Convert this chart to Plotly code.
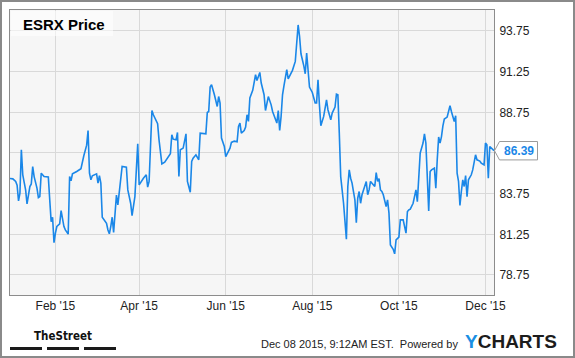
import plotly.graph_objects as go

# ---------------- data ----------------
dates = [
    "2014-12-31",
    "2015-01-02", "2015-01-04", "2015-01-05", "2015-01-06", "2015-01-07", "2015-01-08", "2015-01-09",
    "2015-01-11", "2015-01-12", "2015-01-14", "2015-01-15", "2015-01-16", "2015-01-17", "2015-01-19",
    "2015-01-20", "2015-01-21", "2015-01-22", "2015-01-24", "2015-01-27", "2015-01-28", "2015-01-29",
    "2015-01-30", "2015-01-31",
    "2015-02-01", "2015-02-02", "2015-02-04", "2015-02-05", "2015-02-07", "2015-02-08", "2015-02-10",
    "2015-02-11", "2015-02-12", "2015-02-13", "2015-02-16", "2015-02-18", "2015-02-19", "2015-02-21",
    "2015-02-22", "2015-02-23", "2015-02-24", "2015-02-25", "2015-02-26", "2015-02-27",
    "2015-03-02", "2015-03-03", "2015-03-04", "2015-03-05", "2015-03-06", "2015-03-08", "2015-03-09",
    "2015-03-10", "2015-03-11", "2015-03-12", "2015-03-13", "2015-03-14", "2015-03-15", "2015-03-16",
    "2015-03-17", "2015-03-18", "2015-03-20", "2015-03-23", "2015-03-24", "2015-03-26", "2015-03-27",
    "2015-03-29", "2015-03-30", "2015-03-31",
    "2015-04-01", "2015-04-03", "2015-04-04", "2015-04-06", "2015-04-07", "2015-04-08", "2015-04-10",
    "2015-04-11", "2015-04-13", "2015-04-14", "2015-04-15", "2015-04-17", "2015-04-19", "2015-04-22",
    "2015-04-23", "2015-04-24", "2015-04-25", "2015-04-27", "2015-04-28", "2015-04-29", "2015-04-30",
    "2015-05-02", "2015-05-03", "2015-05-04", "2015-05-05", "2015-05-06", "2015-05-07", "2015-05-08",
    "2015-05-09", "2015-05-11", "2015-05-12", "2015-05-13", "2015-05-14", "2015-05-18", "2015-05-19",
    "2015-05-20", "2015-05-21", "2015-05-22", "2015-05-24", "2015-05-26", "2015-05-27", "2015-05-28",
    "2015-05-29", "2015-05-31",
    "2015-06-01", "2015-06-03", "2015-06-04", "2015-06-05", "2015-06-07", "2015-06-09", "2015-06-10",
    "2015-06-11", "2015-06-12", "2015-06-14", "2015-06-15", "2015-06-16", "2015-06-17", "2015-06-18",
    "2015-06-20", "2015-06-22", "2015-06-23", "2015-06-25", "2015-06-26", "2015-06-28", "2015-06-29",
    "2015-07-01", "2015-07-03", "2015-07-04", "2015-07-06", "2015-07-07", "2015-07-08", "2015-07-09",
    "2015-07-10", "2015-07-11", "2015-07-12", "2015-07-13", "2015-07-14", "2015-07-15", "2015-07-18",
    "2015-07-20", "2015-07-21", "2015-07-22", "2015-07-23", "2015-07-24", "2015-07-26", "2015-07-27",
    "2015-07-28", "2015-07-29", "2015-07-30",
    "2015-08-01", "2015-08-03", "2015-08-04", "2015-08-05", "2015-08-06", "2015-08-07", "2015-08-09",
    "2015-08-11", "2015-08-12", "2015-08-14", "2015-08-15", "2015-08-17", "2015-08-18", "2015-08-19",
    "2015-08-20", "2015-08-21", "2015-08-23", "2015-08-25", "2015-08-26", "2015-08-27", "2015-08-28",
    "2015-08-29", "2015-08-30", "2015-08-31",
    "2015-09-01", "2015-09-02", "2015-09-03", "2015-09-04", "2015-09-05", "2015-09-07", "2015-09-08",
    "2015-09-09", "2015-09-10", "2015-09-11", "2015-09-12", "2015-09-14", "2015-09-15", "2015-09-16",
    "2015-09-17", "2015-09-18", "2015-09-19", "2015-09-20", "2015-09-22", "2015-09-23", "2015-09-24",
    "2015-09-25", "2015-09-27", "2015-09-28", "2015-09-29", "2015-09-30",
    "2015-10-01", "2015-10-02", "2015-10-04", "2015-10-06", "2015-10-07", "2015-10-08", "2015-10-09",
    "2015-10-11", "2015-10-12", "2015-10-13", "2015-10-14", "2015-10-15", "2015-10-16", "2015-10-18",
    "2015-10-19", "2015-10-20", "2015-10-22", "2015-10-23", "2015-10-24", "2015-10-26", "2015-10-27",
    "2015-10-28", "2015-10-29", "2015-10-30", "2015-10-31",
    "2015-11-01", "2015-11-02", "2015-11-04", "2015-11-06", "2015-11-07", "2015-11-08", "2015-11-09",
    "2015-11-10", "2015-11-11", "2015-11-12", "2015-11-13", "2015-11-14", "2015-11-15", "2015-11-16",
    "2015-11-17", "2015-11-18", "2015-11-19", "2015-11-21", "2015-11-22", "2015-11-24", "2015-11-25",
    "2015-11-27", "2015-11-28", "2015-11-30",
    "2015-12-01", "2015-12-02", "2015-12-03", "2015-12-04", "2015-12-05", "2015-12-07",
]

prices = [
    84.68,
    84.66, 84.50, 84.27, 83.31, 83.78, 86.45, 84.91, 83.98, 83.12, 84.19, 84.35, 85.42, 84.80, 84.09,
    83.51, 83.57, 85.01, 84.80, 84.77, 83.37, 82.03, 82.30, 80.74,
    81.32, 81.73, 81.89, 82.71, 81.73, 81.52, 81.26, 84.80, 84.54, 84.97, 85.11, 85.21, 85.28, 86.08,
    86.40, 86.73, 87.63, 85.01, 84.60, 84.85,
    84.97, 84.40, 84.86, 84.40, 82.30, 82.09, 81.93, 81.52, 81.28, 81.73, 82.30, 81.36, 82.75, 83.66,
    83.06, 83.74, 85.42, 85.38, 83.98, 83.16, 82.40, 83.57, 85.42, 86.81,
    84.29, 84.60, 84.70, 84.91, 84.15, 84.50, 88.86, 88.60, 88.19, 88.05, 87.06, 85.58, 85.69, 86.14,
    86.20, 87.37, 87.10, 87.06, 87.51, 84.80, 86.45,
    86.55, 87.06, 87.43, 84.50, 84.09, 83.84, 85.73, 85.93, 86.14, 86.00, 85.83, 87.47, 87.43, 88.74,
    88.80, 90.30, 90.45, 89.83, 89.11, 89.72, 89.32, 87.17, 86.65,
    86.03, 86.45, 86.55, 86.90, 86.98, 86.94, 87.88, 88.09, 87.47, 87.63, 87.84, 88.60, 88.19, 89.63,
    90.10, 91.06, 90.71, 91.20, 90.55, 89.83, 88.86,
    89.72, 89.21, 88.80, 88.29, 88.09, 88.86, 87.63, 88.50, 89.83, 90.38, 90.92, 91.37, 90.80, 91.33,
    91.88, 92.91, 94.12, 93.42, 92.35, 91.61, 91.12, 92.40, 91.37, 90.30,
    89.97, 89.32, 89.32, 90.75, 89.21, 87.92, 88.50, 89.52, 88.91, 88.29, 88.70, 89.07, 89.87, 89.83,
    87.47, 84.80, 83.16, 80.95, 84.19, 85.21, 84.70, 84.40, 83.88, 83.37,
    81.97, 83.47, 83.88, 83.16, 83.68, 84.19, 84.50, 83.68, 83.98, 84.50, 84.40, 84.19, 85.05, 84.50,
    84.68, 83.98, 83.88, 83.68, 82.96, 83.37, 82.55, 80.60, 80.33, 80.05, 80.91, 81.01,
    81.08, 82.14, 82.14, 81.32, 82.65, 82.75, 82.80, 83.16, 83.57, 83.98, 83.26, 85.01, 86.24, 86.86,
    87.43, 86.86, 82.69, 85.11, 85.21, 85.32, 84.09, 85.83, 87.23, 86.86, 87.26,
    87.92, 88.34, 88.46, 89.15, 88.80, 88.40, 88.19, 88.54, 85.01, 84.50, 83.02, 83.88, 84.60, 84.19,
    84.86, 83.57, 84.60, 84.91, 85.21, 86.14, 85.83, 85.75, 85.63, 85.52,
    86.86, 86.75, 84.70, 86.65, 86.55, 86.39,
]

# 86.25 has a gridline, but its label is covered by the last-price callout in the reference
y_ticks = [78.75, 81.25, 83.75, 86.25, 88.75, 91.25, 93.75]
y_tick_text = ["78.75", "81.25", "83.75", "", "88.75", "91.25", "93.75"]
x_ticks = ["2015-02-01", "2015-04-01", "2015-06-01", "2015-08-01", "2015-10-01", "2015-12-01"]
x_tick_text = ["Feb '15", "Apr '15", "Jun '15", "Aug '15", "Oct '15", "Dec '15"]

title_text = "ESRX Price"
footer_text = "Dec 08 2015, 9:12AM EST.  Powered by"

# ---------------- layout geometry ----------------
FIG_W, FIG_H = 575, 358
L, R, T, B = 10, 81, 10, 63
W = FIG_W - L - R
H = FIG_H - T - B
y_range = [77.52, 95.04]
x_range = ["2014-12-31", "2015-12-07"]


def px(x):
    return (x - L) / W


def py(y):
    return (T + H - y) / H


LINE_BLUE = "#1a87e8"
FONT = "Arial, Liberation Sans, Helvetica, sans-serif"

fig = go.Figure()
fig.add_trace(go.Scatter(
    x=dates, y=prices, mode="lines",
    line=dict(color=LINE_BLUE, width=1.6),
    hoverinfo="skip", showlegend=False,
))

axis_common = dict(
    showgrid=True, gridcolor="#d9d9d9", gridwidth=1,
    showline=True, linecolor="#8c8c8c", linewidth=1, mirror=True,
    zeroline=False, fixedrange=True,
    tickfont=dict(family=FONT, size=12, color="#222222"),
    ticks="outside", tickcolor="rgba(0,0,0,0)",
)

fig.update_xaxes(
    type="date", range=x_range,
    tickmode="array", tickvals=x_ticks, ticktext=x_tick_text,
    ticklen=0, **axis_common,
)
fig.update_yaxes(
    range=y_range, side="right",
    tickmode="array", tickvals=y_ticks, ticktext=y_tick_text,
    ticklen=2, **axis_common,
)

# last value callout
last_val = prices[-1]
units_per_px = (y_range[1] - y_range[0]) / H
dy = 9.2 * units_per_px
x_tip, x_l, x_r = px(494.5), px(499.5), px(537.5)
callout_path = (f"M {x_tip},{last_val} L {x_l},{last_val + dy} L {x_r},{last_val + dy} "
                f"L {x_r},{last_val - dy} L {x_l},{last_val - dy} Z")

shapes = [
    # outer frame
    dict(type="rect", xref="paper", yref="paper", x0=px(1), x1=px(574), y0=py(357), y1=py(1),
         line=dict(color="#8a8a8a", width=2), fillcolor="rgba(0,0,0,0)", layer="above"),
    # title backdrop
    dict(type="rect", xref="paper", yref="paper", x0=px(11), x1=px(113), y0=py(36), y1=py(11),
         line=dict(width=0), fillcolor="rgba(255,255,255,0.55)", layer="above"),
    # callout box
    dict(type="path", xref="paper", yref="y", path=callout_path,
         line=dict(color="#9a9a9a", width=1), fillcolor="white", layer="above"),
    # TheStreet bars
    dict(type="rect", xref="paper", yref="paper", x0=px(10), x1=px(42), y0=py(350), y1=py(347),
         line=dict(width=0), fillcolor="#1a1a1a"),
    dict(type="rect", xref="paper", yref="paper", x0=px(47), x1=px(79), y0=py(350), y1=py(347),
         line=dict(width=0), fillcolor="#1a1a1a"),
    dict(type="rect", xref="paper", yref="paper", x0=px(84), x1=px(116), y0=py(350), y1=py(347),
         line=dict(width=0), fillcolor="#1a1a1a"),
]

annotations = [
    dict(text=f"<b>{title_text}</b>", xref="paper", yref="paper", x=px(21), y=py(24),
         xanchor="left", yanchor="middle", showarrow=False,
         font=dict(family=FONT, size=15, color="#000000")),
    dict(text=f"<b>{last_val:.2f}</b>", xref="paper", yref="y", x=px(518.5), y=last_val,
         xanchor="center", yanchor="middle", showarrow=False,
         font=dict(family=FONT, size=12, color=LINE_BLUE)),
    dict(text="<b>TheStreet</b>", xref="paper", yref="paper", x=px(63), y=py(336),
         xanchor="center", yanchor="middle", showarrow=False,
         font=dict(family="Liberation Sans Narrow, Arial Narrow, DejaVu Sans Condensed, sans-serif",
                   size=11.5, color="#111111")),
    dict(text=footer_text, xref="paper", yref="paper", x=px(460), y=py(344),
         xanchor="right", yanchor="middle", showarrow=False,
         font=dict(family=FONT, size=11, color="#222222")),
    dict(text="<b><span style='color:#1a8fe3'>Y</span>CHARTS</b>", xref="paper", yref="paper",
         x=px(463), y=py(341), xanchor="left", yanchor="middle", showarrow=False,
         font=dict(family=FONT, size=19, color="#1c1c1c")),
]

fig.update_layout(
    width=FIG_W, height=FIG_H,
    margin=dict(l=L, r=R, t=T, b=B, pad=0),
    paper_bgcolor="white", plot_bgcolor="#f6f6f6",
    shapes=shapes, annotations=annotations,
    showlegend=False, hovermode=False,
)

fig.write_html("out.html", config={"displayModeBar": False, "staticPlot": True})
